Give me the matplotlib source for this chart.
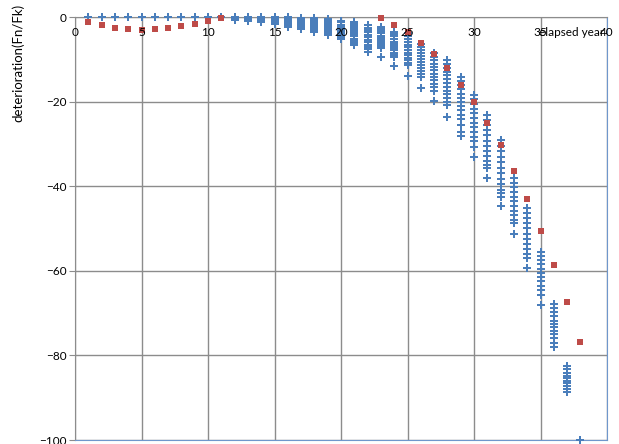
import numpy as np
import matplotlib
matplotlib.use("Agg")
import matplotlib.pyplot as plt

# measured points: elapsed year -> deterioration values (Fn/Fk)
blue_years = list(range(1, 39))
blue_values = [
    [0.0], [0.0], [0.0], [0.0], [0.0], [0.0], [0.0], [0.0], [0.0], [0.0], [0.0],
    [0.0, -0.1, -0.2, -0.3, -0.4, -0.5, -0.6, -0.7],
    [0.0, -0.1, -0.2, -0.4, -0.5, -0.6, -0.8, -1.0],
    [0.0, -0.2, -0.3, -0.5, -0.6, -0.8, -1.0, -1.3],
    [0.0, -0.2, -0.4, -0.6, -0.8, -1.0, -1.2, -1.4, -1.7],
    [-0.1, -0.3, -0.6, -0.8, -1.0, -1.3, -1.5, -1.8, -2.0, -2.3],
    [-0.2, -0.5, -0.8, -1.1, -1.4, -1.7, -2.0, -2.3, -2.6, -2.9],
    [-0.3, -0.6, -1.0, -1.3, -1.6, -2.0, -2.3, -2.6, -3.0, -3.5],
    [-0.5, -0.9, -1.3, -1.7, -2.1, -2.5, -2.9, -3.3, -3.7, -4.3],
    [-0.9, -1.3, -1.8, -2.2, -2.7, -3.1, -3.5, -4.0, -4.4, -4.8, -5.3],
    [-1.1, -1.6, -2.1, -2.6, -3.1, -3.6, -4.1, -4.6, -5.1, -5.6, -6.1, -6.6],
    [-1.9, -2.5, -3.1, -3.6, -4.2, -4.8, -5.4, -6.0, -6.6, -7.1, -7.6, -8.2],
    [-2.4, -2.9, -3.4, -3.9, -4.4, -4.9, -5.4, -5.9, -6.4, -6.9, -7.4, -9.5],
    [-3.5, -4.0, -4.6, -5.2, -5.8, -6.3, -6.8, -7.3, -7.8, -8.4, -9.0, -9.5, -11.5],
    [-3.9, -4.6, -5.3, -6.0, -6.6, -7.2, -7.8, -8.4, -9.0, -9.6, -10.2, -10.8, -11.4, -13.9],
    [-6.4, -7.1, -7.8, -8.5, -9.2, -9.9, -10.6, -11.3, -12.0, -12.7, -13.4, -14.1, -16.8],
    [-8.6, -9.4, -10.2, -11.0, -11.8, -12.6, -13.4, -14.2, -15.0, -15.8, -16.6, -17.4, -19.9],
    [-10.2, -11.1, -12.0, -12.9, -13.8, -14.7, -15.6, -16.5, -17.4, -18.3, -19.2, -20.0, -20.8, -23.7],
    [-14.1, -15.1, -16.1, -17.1, -18.1, -19.1, -20.1, -21.1, -22.1, -23.1, -24.1, -25.5, -27.3, -28.1],
    [-18.4, -19.5, -20.6, -21.7, -22.8, -23.9, -25.0, -26.1, -27.2, -28.3, -29.4, -30.7, -33.0],
    [-23.2, -24.4, -25.6, -26.8, -28.0, -29.2, -30.4, -31.6, -32.8, -34.0, -35.0, -35.8, -38.1],
    [-29.1, -30.4, -31.7, -33.0, -34.3, -35.6, -36.9, -38.2, -39.5, -40.8, -41.7, -42.5, -44.7],
    [-38.1, -39.2, -40.3, -41.4, -42.5, -43.6, -44.7, -45.8, -46.9, -48.0, -48.8, -51.4],
    [-45.2, -46.4, -47.6, -48.8, -50.0, -51.2, -52.4, -53.6, -54.8, -56.0, -57.0, -59.3],
    [-55.5, -56.5, -57.5, -58.5, -59.5, -60.5, -61.5, -62.5, -63.5, -64.6, -65.7, -68.1],
    [-67.8, -68.8, -69.8, -70.8, -71.8, -72.6, -73.4, -74.2, -75.0, -76.0, -77.0, -77.9],
    [-82.5, -83.3, -84.1, -84.8, -85.4, -86.0, -86.6, -87.2, -87.9, -88.6],
    [-100.0],
]

# predicted curve (red squares)
red_years = [1, 2, 3, 4, 5, 6, 7, 8, 9, 10, 11,
             23, 24, 25, 26, 27, 28, 29, 30, 31, 32, 33, 34, 35, 36, 37, 38]
red_values = [-1.2, -2.0, -2.6, -2.9, -3.1, -2.9, -2.6, -2.1, -1.7, -0.9, -0.3,
              -0.3, -2.0, -3.6, -6.1, -8.8, -12.1, -16.0, -20.1, -25.1, -30.3,
              -36.3, -43.1, -50.6, -58.6, -67.3, -76.9]

x_ticks = [0, 5, 10, 15, 20, 25, 30, 35, 40]
y_ticks = [0, -20, -40, -60, -80, -100]

plt.rcParams['font.family'] = ['Lato', 'DejaVu Sans']

fig = plt.figure(figsize=(6.19, 4.44), dpi=100)
ax = fig.add_axes([75 / 619, 4 / 444, 532 / 619, 423 / 444])

bx = np.concatenate([[yr] * len(v) for yr, v in zip(blue_years, blue_values)])
by = np.concatenate(blue_values)
ax.plot(bx, by, linestyle='none', marker='P', ms=5.3, color='#4A7EBB',
        markeredgewidth=0, clip_on=False, zorder=3)
ax.plot(red_years, red_values, linestyle='none', marker='s', ms=3.9,
        color='#BE4B48', markeredgewidth=0, clip_on=False, zorder=4)

ax.set_xlim(0, 40)
ax.set_ylim(-100, 0)
ax.set_xticks(x_ticks)
ax.set_yticks(y_ticks)
ax.grid(True, color='#8c8c8c', linewidth=1.0)
ax.set_axisbelow(True)

ax.tick_params(axis='x', length=0, labelbottom=False)
ax.tick_params(axis='y', length=4, color='#8c8c8c', labelsize=8.5, pad=2)

for t in x_ticks:
    ax.text(t, 1 - 15 / 423, str(t), transform=ax.get_xaxis_transform(),
            ha='center', va='center', fontsize=8.5, zorder=6)
ax.text((539 - 75) / 532 * 40, 1 - 15 / 423, 'elapsed year',
        transform=ax.get_xaxis_transform(), ha='left', va='center',
        fontsize=8.5, zorder=5)

for side in ['left', 'top']:
    ax.spines[side].set_color('#8c8c8c')
for side in ['right', 'bottom']:
    ax.spines[side].set_color('#6f97cc')

fig.text(18 / 619, 1 - 63 / 444, 'deterioration(Fn/Fk)', rotation=90,
         ha='center', va='center', fontsize=9.5)

fig.savefig('out.png', dpi=100)
